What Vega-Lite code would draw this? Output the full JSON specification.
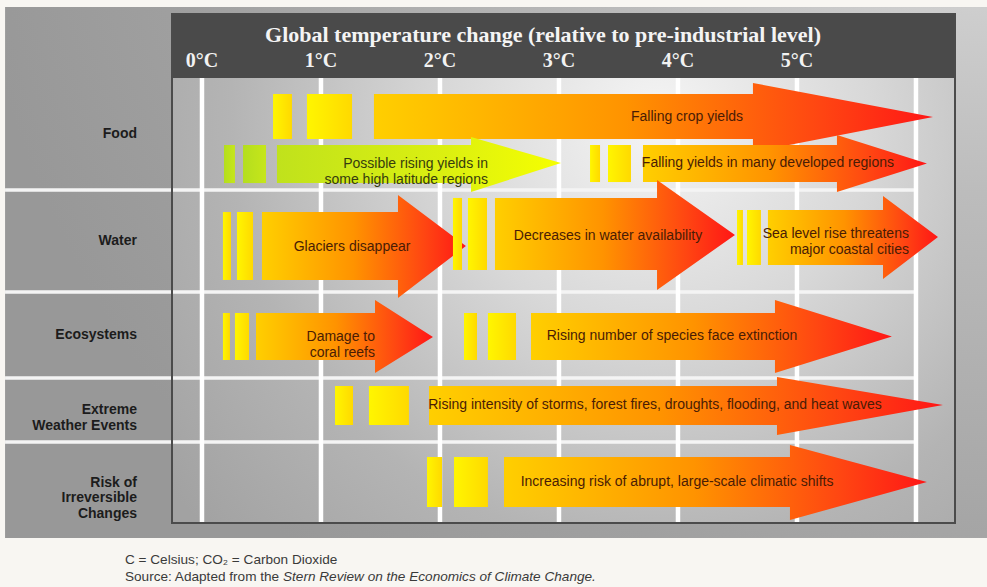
{
  "$schema": "https://vega.github.io/schema/vega-lite/v6.json",
  "width": 783,
  "height": 509,
  "autosize": {"type": "none"},
  "padding": {"left": 172, "top": 14, "right": 32, "bottom": 64},
  "background": "#f8f6f2",
  "config": {"view": {"stroke": null}, "font": "Liberation Sans"},
  "datasets": {
    "degrees": [
      {"deg": 0, "label": "0°C"}, {"deg": 1, "label": "1°C"}, {"deg": 2, "label": "2°C"},
      {"deg": 3, "label": "3°C"}, {"deg": 4, "label": "4°C"}, {"deg": 5, "label": "5°C"},
      {"deg": 6}
    ],
    "rows": [
      {"row": 0, "middle": 0.5, "label": "Food"},
      {"row": 1, "middle": 1.5, "label": "Water"},
      {"row": 2, "middle": 2.5, "label": "Ecosystems"},
      {"row": 3, "middle": 3.5, "label": "Extreme\nWeather Events"},
      {"row": 4, "middle": 4.5, "label": "Risk of\nIrreversible\nChanges"}
    ],
    "outlines": [
      {"arrow": 1, "family": "loss", "step": 1, "temp": 1.445, "upper": 0.143, "lower": 0.545},
      {"arrow": 1, "family": "loss", "step": 2, "temp": 4.630, "upper": 0.143, "lower": 0.545},
      {"arrow": 1, "family": "loss", "step": 3, "temp": 4.630, "upper": 0.045, "lower": 0.661},
      {"arrow": 1, "family": "loss", "step": 4, "temp": 6.143, "upper": 0.348, "lower": 0.348},
      {"arrow": 2, "family": "loss", "step": 1, "temp": 3.706, "upper": 0.598, "lower": 0.929},
      {"arrow": 2, "family": "loss", "step": 2, "temp": 5.336, "upper": 0.598, "lower": 0.929},
      {"arrow": 2, "family": "loss", "step": 3, "temp": 5.336, "upper": 0.509, "lower": 1.020},
      {"arrow": 2, "family": "loss", "step": 4, "temp": 6.092, "upper": 0.763, "lower": 0.763},
      {"arrow": 3, "family": "loss", "step": 1, "temp": 0.504, "upper": 1.216, "lower": 1.882},
      {"arrow": 3, "family": "loss", "step": 2, "temp": 1.647, "upper": 1.216, "lower": 1.882},
      {"arrow": 3, "family": "loss", "step": 3, "temp": 1.647, "upper": 1.049, "lower": 2.070},
      {"arrow": 3, "family": "loss", "step": 4, "temp": 2.218, "upper": 1.549, "lower": 1.549},
      {"arrow": 4, "family": "loss", "step": 1, "temp": 2.462, "upper": 1.078, "lower": 1.784},
      {"arrow": 4, "family": "loss", "step": 2, "temp": 3.824, "upper": 1.078, "lower": 1.784},
      {"arrow": 4, "family": "loss", "step": 3, "temp": 3.824, "upper": 0.911, "lower": 1.980},
      {"arrow": 4, "family": "loss", "step": 4, "temp": 4.479, "upper": 1.441, "lower": 1.441},
      {"arrow": 5, "family": "loss", "step": 1, "temp": 4.756, "upper": 1.196, "lower": 1.735},
      {"arrow": 5, "family": "loss", "step": 2, "temp": 5.723, "upper": 1.196, "lower": 1.735},
      {"arrow": 5, "family": "loss", "step": 3, "temp": 5.723, "upper": 1.059, "lower": 1.873},
      {"arrow": 5, "family": "loss", "step": 4, "temp": 6.185, "upper": 1.461, "lower": 1.461},
      {"arrow": 6, "family": "loss", "step": 1, "temp": 0.454, "upper": 2.244, "lower": 2.791},
      {"arrow": 6, "family": "loss", "step": 2, "temp": 1.454, "upper": 2.244, "lower": 2.791},
      {"arrow": 6, "family": "loss", "step": 3, "temp": 1.454, "upper": 2.093, "lower": 2.942},
      {"arrow": 6, "family": "loss", "step": 4, "temp": 1.941, "upper": 2.523, "lower": 2.523},
      {"arrow": 7, "family": "loss", "step": 1, "temp": 2.765, "upper": 2.244, "lower": 2.791},
      {"arrow": 7, "family": "loss", "step": 2, "temp": 4.815, "upper": 2.244, "lower": 2.791},
      {"arrow": 7, "family": "loss", "step": 3, "temp": 4.815, "upper": 2.093, "lower": 2.942},
      {"arrow": 7, "family": "loss", "step": 4, "temp": 5.798, "upper": 2.517, "lower": 2.517},
      {"arrow": 8, "family": "loss", "step": 1, "temp": 1.908, "upper": 3.125, "lower": 3.734},
      {"arrow": 8, "family": "loss", "step": 2, "temp": 4.832, "upper": 3.125, "lower": 3.734},
      {"arrow": 8, "family": "loss", "step": 3, "temp": 4.832, "upper": 2.988, "lower": 3.891},
      {"arrow": 8, "family": "loss", "step": 4, "temp": 6.227, "upper": 3.422, "lower": 3.422},
      {"arrow": 9, "family": "loss", "step": 1, "temp": 2.538, "upper": 4.185, "lower": 4.802},
      {"arrow": 9, "family": "loss", "step": 2, "temp": 4.941, "upper": 4.185, "lower": 4.802},
      {"arrow": 9, "family": "loss", "step": 3, "temp": 4.941, "upper": 4.037, "lower": 4.963},
      {"arrow": 9, "family": "loss", "step": 4, "temp": 6.092, "upper": 4.494, "lower": 4.494},
      {"arrow": 10, "family": "gain", "step": 1, "temp": 0.630, "upper": 0.598, "lower": 0.938},
      {"arrow": 10, "family": "gain", "step": 2, "temp": 2.261, "upper": 0.598, "lower": 0.938},
      {"arrow": 10, "family": "gain", "step": 3, "temp": 2.261, "upper": 0.527, "lower": 1.020},
      {"arrow": 10, "family": "gain", "step": 4, "temp": 3.017, "upper": 0.759, "lower": 0.759}
    ],
    "leadIns": [
      {"arrow": 1, "family": "loss", "from": 0.597, "to": 0.756, "upper": 0.143, "lower": 0.545},
      {"arrow": 1, "family": "loss", "from": 0.882, "to": 1.261, "upper": 0.143, "lower": 0.545},
      {"arrow": 2, "family": "loss", "from": 3.261, "to": 3.345, "upper": 0.598, "lower": 0.929},
      {"arrow": 2, "family": "loss", "from": 3.412, "to": 3.605, "upper": 0.598, "lower": 0.929},
      {"arrow": 3, "family": "loss", "from": 0.176, "to": 0.244, "upper": 1.216, "lower": 1.882},
      {"arrow": 3, "family": "loss", "from": 0.294, "to": 0.429, "upper": 1.216, "lower": 1.882},
      {"arrow": 4, "family": "loss", "from": 2.109, "to": 2.185, "upper": 1.078, "lower": 1.784},
      {"arrow": 4, "family": "loss", "from": 2.235, "to": 2.395, "upper": 1.078, "lower": 1.784},
      {"arrow": 5, "family": "loss", "from": 4.496, "to": 4.546, "upper": 1.196, "lower": 1.735},
      {"arrow": 5, "family": "loss", "from": 4.580, "to": 4.697, "upper": 1.196, "lower": 1.735},
      {"arrow": 6, "family": "loss", "from": 0.176, "to": 0.235, "upper": 2.244, "lower": 2.791},
      {"arrow": 6, "family": "loss", "from": 0.277, "to": 0.395, "upper": 2.244, "lower": 2.791},
      {"arrow": 7, "family": "loss", "from": 2.202, "to": 2.311, "upper": 2.244, "lower": 2.791},
      {"arrow": 7, "family": "loss", "from": 2.403, "to": 2.639, "upper": 2.244, "lower": 2.791},
      {"arrow": 8, "family": "loss", "from": 1.118, "to": 1.269, "upper": 3.125, "lower": 3.734},
      {"arrow": 8, "family": "loss", "from": 1.403, "to": 1.739, "upper": 3.125, "lower": 3.734},
      {"arrow": 9, "family": "loss", "from": 1.891, "to": 2.017, "upper": 4.185, "lower": 4.802},
      {"arrow": 9, "family": "loss", "from": 2.118, "to": 2.403, "upper": 4.185, "lower": 4.802},
      {"arrow": 10, "family": "gain", "from": 0.185, "to": 0.277, "upper": 0.598, "lower": 0.938},
      {"arrow": 10, "family": "gain", "from": 0.345, "to": 0.538, "upper": 0.598, "lower": 0.938}
    ],
    "captions": [
      {"arrow": 1, "family": "loss", "label": "Falling crop yields", "mid": 4.076, "at": 0.348},
      {"arrow": 10, "family": "gain", "label": "Possible rising yields in\nsome high latitude regions", "end": 2.403, "at": 0.772},
      {"arrow": 2, "family": "loss", "label": "Falling yields in many developed regions", "mid": 4.756, "at": 0.759},
      {"arrow": 3, "family": "loss", "label": "Glaciers disappear", "mid": 1.261, "at": 1.559},
      {"arrow": 4, "family": "loss", "label": "Decreases in water availability", "mid": 3.412, "at": 1.451},
      {"arrow": 5, "family": "loss", "label": "Sea level rise threatens\nmajor coastal cities", "end": 5.941, "at": 1.431},
      {"arrow": 6, "family": "loss", "label": "Damage to\ncoral reefs", "end": 1.454, "at": 2.529},
      {"arrow": 7, "family": "loss", "label": "Rising number of species face extinction", "mid": 3.950, "at": 2.512},
      {"arrow": 8, "family": "loss", "label": "Rising intensity of storms, forest fires, droughts, flooding, and heat waves", "mid": 3.807, "at": 3.422},
      {"arrow": 9, "family": "loss", "label": "Increasing risk of  abrupt, large-scale climatic shifts", "mid": 3.992, "at": 4.494}
    ]
  },
  "layer": [
    {
      "data": {"values": [{"part": "panel"}]},
      "mark": {
        "type": "rect",
        "fill": {
          "gradient": "radial",
          "x1": 1, "y1": 0, "r1": 0,
          "x2": 1, "y2": 0, "r2": 1.05,
          "stops": [
            {"offset": 0, "color": "#e4e4e4"},
            {"offset": 0.4, "color": "#bcbcbc"},
            {"offset": 0.8, "color": "#a0a0a0"},
            {"offset": 1, "color": "#989898"}
          ]
        }
      },
      "encoding": {
        "x": {"datum": -1.655, "type": "quantitative", "axis": null,
              "scale": {"domain": [-0.252, 6.328], "nice": false, "zero": false}},
        "x2": {"datum": 6.597},
        "y": {"datum": -1.109, "type": "quantitative", "axis": null,
              "scale": {"domain": [-1, 0, 1, 2, 3, 4, 5], "range": [0, 64, 176, 278, 364, 428, 509], "nice": false, "zero": false}},
        "y2": {"datum": 5.185}
      }
    },
    {
      "data": {"values": [{"part": "plot"}]},
      "mark": {
        "type": "rect",
        "fill": {
          "gradient": "radial",
          "x1": 0.62, "y1": 0.27, "r1": 0,
          "x2": 0.62, "y2": 0.27, "r2": 0.78,
          "stops": [
            {"offset": 0, "color": "#f5f5f5"},
            {"offset": 0.35, "color": "#d8d8d8"},
            {"offset": 0.7, "color": "#b4b4b4"},
            {"offset": 1, "color": "#a2a2a2"}
          ]
        }
      },
      "encoding": {
        "x": {"datum": -0.252, "type": "quantitative", "axis": null},
        "x2": {"datum": 6.328},
        "y": {"datum": 0, "type": "quantitative", "axis": null},
        "y2": {"datum": 5}
      }
    },
    {
      "data": {"values": [{"part": "header"}]},
      "mark": {"type": "rect", "fill": "#4a4a4a"},
      "encoding": {
        "x": {"datum": -0.252, "type": "quantitative", "axis": null},
        "x2": {"datum": 6.328},
        "y": {"datum": -1, "type": "quantitative", "axis": null},
        "y2": {"datum": 0}
      }
    },
    {
      "data": {"values": [{"part": "heading"}]},
      "mark": {"type": "text", "align": "center", "baseline": "alphabetic", "font": "Liberation Serif", "fontWeight": "bold", "fontSize": 22, "color": "#f4f4f4"},
      "encoding": {
        "x": {"datum": 2.866, "type": "quantitative", "axis": null},
        "y": {"datum": -0.5625, "type": "quantitative", "axis": null},
        "text": {"value": "Global temperature change (relative to pre-industrial level)"}
      }
    },
    {
      "data": {"name": "degrees"},
      "transform": [{"filter": "isValid(datum.label)"}],
      "mark": {"type": "text", "align": "center", "baseline": "alphabetic", "font": "Liberation Serif", "fontWeight": "bold", "fontSize": 20, "color": "#f2f2f2"},
      "encoding": {
        "x": {"field": "deg", "type": "quantitative", "axis": null},
        "y": {"datum": -0.172, "type": "quantitative", "axis": null},
        "text": {"field": "label"}
      }
    },
    {
      "data": {"name": "rows"},
      "transform": [{"filter": "datum.row > 0"}],
      "mark": {"type": "rule", "color": "#f4f4f4", "strokeWidth": 3.5},
      "encoding": {
        "x": {"datum": -1.655, "type": "quantitative", "axis": null},
        "x2": {"datum": 6.0},
        "y": {"field": "row", "type": "quantitative", "axis": null}
      }
    },
    {
      "data": {"name": "degrees"},
      "mark": {"type": "rule", "color": "#ffffff", "strokeWidth": 4.5},
      "encoding": {
        "x": {"field": "deg", "type": "quantitative", "axis": null},
        "y": {"datum": 0, "type": "quantitative", "axis": null},
        "y2": {"datum": 5}
      }
    },
    {
      "data": {"name": "outlines"},
      "transform": [{"filter": "datum.family === 'loss'"}],
      "mark": {
        "type": "area",
        "color": {
          "gradient": "linear",
          "x1": 0, "y1": 0, "x2": 1, "y2": 0,
          "stops": [
            {"offset": 0, "color": "#ffcf00"},
            {"offset": 0.45, "color": "#ff9300"},
            {"offset": 0.8, "color": "#ff4512"},
            {"offset": 1, "color": "#ff1616"}
          ]
        }
      },
      "encoding": {
        "x": {"field": "temp", "type": "quantitative", "axis": null},
        "y": {"field": "upper", "type": "quantitative", "axis": null},
        "y2": {"field": "lower"},
        "detail": {"field": "arrow", "type": "nominal"}
      }
    },
    {
      "data": {"name": "outlines"},
      "transform": [{"filter": "datum.family === 'gain'"}],
      "mark": {
        "type": "area",
        "color": {
          "gradient": "linear",
          "x1": 0, "y1": 0, "x2": 1, "y2": 0,
          "stops": [
            {"offset": 0, "color": "#c0e21c"},
            {"offset": 0.6, "color": "#dcf010"},
            {"offset": 1, "color": "#f6ff00"}
          ]
        }
      },
      "encoding": {
        "x": {"field": "temp", "type": "quantitative", "axis": null},
        "y": {"field": "upper", "type": "quantitative", "axis": null},
        "y2": {"field": "lower"},
        "detail": {"field": "arrow", "type": "nominal"}
      }
    },
    {
      "data": {"name": "leadIns"},
      "transform": [{"filter": "datum.family === 'loss'"}],
      "mark": {
        "type": "rect",
        "fill": {
          "gradient": "linear",
          "x1": 0, "y1": 0, "x2": 1, "y2": 0,
          "stops": [
            {"offset": 0, "color": "#fff600"},
            {"offset": 1, "color": "#ffd900"}
          ]
        }
      },
      "encoding": {
        "x": {"field": "from", "type": "quantitative", "axis": null},
        "x2": {"field": "to"},
        "y": {"field": "upper", "type": "quantitative", "axis": null},
        "y2": {"field": "lower"}
      }
    },
    {
      "data": {"name": "leadIns"},
      "transform": [{"filter": "datum.family === 'gain'"}],
      "mark": {
        "type": "rect",
        "fill": {
          "gradient": "linear",
          "x1": 0, "y1": 0, "x2": 1, "y2": 0,
          "stops": [
            {"offset": 0, "color": "#b4de1e"},
            {"offset": 1, "color": "#c6e61a"}
          ]
        }
      },
      "encoding": {
        "x": {"field": "from", "type": "quantitative", "axis": null},
        "x2": {"field": "to"},
        "y": {"field": "upper", "type": "quantitative", "axis": null},
        "y2": {"field": "lower"}
      }
    },
    {
      "data": {"name": "captions"},
      "transform": [{"filter": "isValid(datum.mid)"}],
      "mark": {"type": "text", "align": "center", "baseline": "middle", "fontSize": 14, "lineBreak": "\n", "lineHeight": 16},
      "encoding": {
        "x": {"field": "mid", "type": "quantitative", "axis": null},
        "y": {"field": "at", "type": "quantitative", "axis": null},
        "text": {"field": "label"},
        "color": {"field": "family", "type": "nominal", "legend": null,
                  "scale": {"domain": ["loss", "gain"], "range": ["#4a1c05", "#363c0e"]}}
      }
    },
    {
      "data": {"name": "captions"},
      "transform": [{"filter": "isValid(datum.end)"}],
      "mark": {"type": "text", "align": "right", "baseline": "middle", "fontSize": 14, "lineBreak": "\n", "lineHeight": 16},
      "encoding": {
        "x": {"field": "end", "type": "quantitative", "axis": null},
        "y": {"field": "at", "type": "quantitative", "axis": null},
        "text": {"field": "label"},
        "color": {"field": "family", "type": "nominal", "legend": null}
      }
    },
    {
      "data": {"name": "rows"},
      "mark": {"type": "text", "align": "right", "baseline": "middle", "fontSize": 14, "fontWeight": "bold", "lineBreak": "\n", "lineHeight": 15.5, "color": "#1c1c1c"},
      "encoding": {
        "x": {"datum": -0.546, "type": "quantitative", "axis": null},
        "y": {"field": "middle", "type": "quantitative", "axis": null},
        "text": {"field": "label"}
      }
    },
    {
      "data": {"values": [{"part": "frame"}]},
      "mark": {"type": "rect", "fillOpacity": 0, "stroke": "#4b4b4b", "strokeWidth": 2},
      "encoding": {
        "x": {"datum": -0.252, "type": "quantitative", "axis": null},
        "x2": {"datum": 6.328},
        "y": {"datum": -1, "type": "quantitative", "axis": null},
        "y2": {"datum": 5}
      }
    },
    {
      "data": {"values": [{"part": "note"}]},
      "mark": {"type": "text", "align": "left", "baseline": "middle", "fontSize": 13.6, "color": "#3a3a3a"},
      "encoding": {
        "x": {"datum": -0.647, "type": "quantitative", "axis": null},
        "y": {"datum": 5.457, "type": "quantitative", "axis": null},
        "text": {"value": "C = Celsius; CO₂ = Carbon Dioxide"}
      }
    },
    {
      "data": {"values": [{"part": "source"}]},
      "mark": {"type": "text", "align": "left", "baseline": "middle", "fontSize": 13.6, "color": "#3a3a3a"},
      "encoding": {
        "x": {"datum": -0.647, "type": "quantitative", "axis": null},
        "y": {"datum": 5.667, "type": "quantitative", "axis": null},
        "text": {"value": "Source: Adapted from the"}
      }
    },
    {
      "data": {"values": [{"part": "source title"}]},
      "mark": {"type": "text", "align": "left", "baseline": "middle", "fontSize": 13.6, "fontStyle": "italic", "color": "#3a3a3a"},
      "encoding": {
        "x": {"datum": 0.681, "type": "quantitative", "axis": null},
        "y": {"datum": 5.667, "type": "quantitative", "axis": null},
        "text": {"value": "Stern Review on the Economics of Climate Change."}
      }
    }
  ]
}
